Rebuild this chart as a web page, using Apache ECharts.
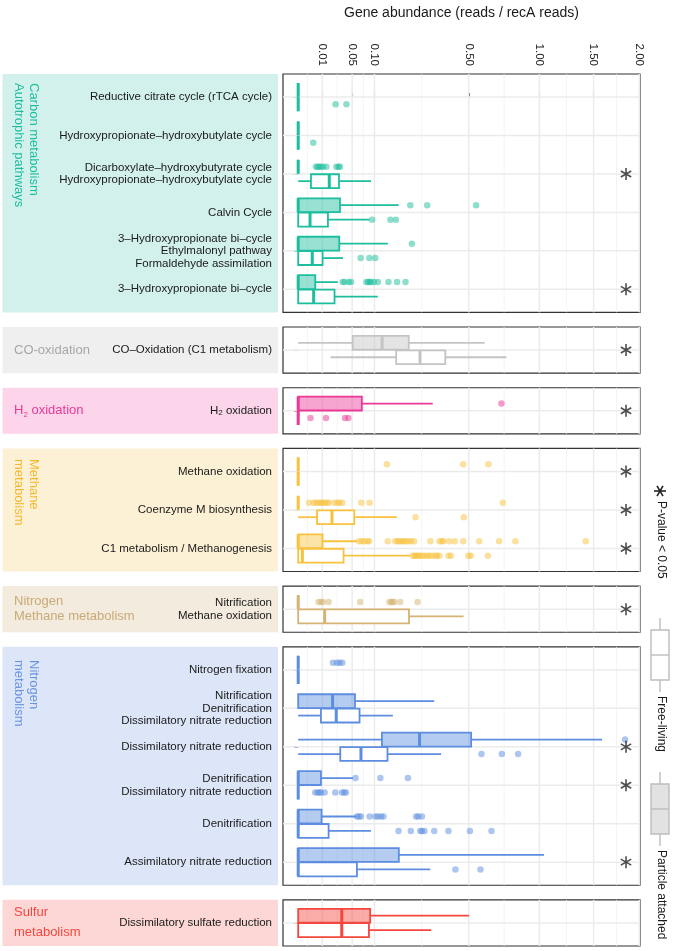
<!DOCTYPE html>
<html>
<head>
<meta charset="utf-8">
<script src="https://cdn.jsdelivr.net/npm/echarts@6/dist/echarts.min.js"></script>
<style>
  html, body { margin: 0; padding: 0; background: #fff; }
  #main { width: 675px; height: 951px; }
</style>
</head>
<body>
<div id="main"></div>
<script>
// x axis is square-root scaled; breaks shown on top
const tickValues = [0.01, 0.05, 0.1, 0.5, 1, 1.5, 2];
const tickLabels = ['0.01', '0.05', '0.10', '0.50', '1.00', '1.50', '2.00'];

// box stats are [min, q1, median, q3, max] in reads / recA reads
const carbonCats = [
  'Reductive citrate cycle (rTCA cycle)',
  'Hydroxypropionate–hydroxybutylate cycle',
  'Dicarboxylate–hydroxybutyrate cycle\nHydroxypropionate–hydroxybutylate cycle',
  'Calvin Cycle',
  '3–Hydroxypropionate bi–cycle\nEthylmalonyl pathway\nFormaldehyde assimilation',
  '3–Hydroxypropionate bi–cycle'
];
const carbonAttached = [[0, 0, 0, 0, 0], [0, 0, 0, 0, 0], [0, 0, 0, 0, 0], [0, 0, 0, 0.030, 0.173], [0, 0, 0, 0.029, 0.138], [0, 0, 0, 0.005, 0.027]];
const carbonFree = [[0, 0, 0, 0, 0], [0, 0, 0, 0, 0], [0, 0.0028, 0.0166, 0.0286, 0.091], [0, 0, 0.0024, 0.0152, 0.0875], [0, 0, 0.0034, 0.0102, 0.0344], [0, 0, 0.0041, 0.0227, 0.109]];
const carbonAttachedOut = [[], [], [0.0054, 0.0065, 0.0076, 0.0089, 0.0106, 0.0136, 0.025, 0.028, 0.030], [0.216, 0.286, 0.544], [0.222],
  [0.034, 0.037, 0.044, 0.048, 0.080, 0.084, 0.088, 0.091, 0.099, 0.109, 0.140, 0.168, 0.198]];
const carbonFreeOut = [[0.024, 0.040], [0.0039], [], [0.094, 0.146, 0.164], [0.067, 0.087, 0.102], []];
const carbonSig = [0, 0, 1, 0, 0, 1];

const coCats = ['CO–Oxidation (C1 metabolism)'];
const coAttached = [[0, 0.051, 0.121, 0.21, 0.597]];
const coFree = [[0.018, 0.165, 0.255, 0.372, 0.745]];
const coAttachedOut = [[]];
const coFreeOut = [[]];
const coSig = [1];

const h2Cats = ['H{sub|2} oxidation'];
const h2Attached = [[0, 0, 0, 0.0696, 0.311]];
const h2Free = [[0, 0, 0, 0, 0]];
const h2AttachedOut = [[0.71]];
const h2FreeOut = [[0.0026, 0.0133, 0.0376, 0.0432]];
const h2Sig = [1];

const methaneCats = ['Methane oxidation', 'Coenzyme M biosynthesis', 'C1 metabolism / Methanogenesis'];
const methaneAttached = [[0, 0, 0, 0, 0], [0, 0, 0, 0, 0], [0, 0, 0, 0.0102, 0.0593]];
const methaneFree = [[0, 0, 0, 0, 0], [0, 0.0061, 0.0196, 0.054, 0.1675], [0, 0, 0.0003, 0.0354, 0.216]];
const methaneAttachedOut = [
  [0.135, 0.468, 0.622],
  [0.002, 0.0041, 0.0054, 0.0071, 0.0084, 0.0102, 0.012, 0.0142, 0.0159, 0.0224, 0.0266, 0.0294, 0.0334, 0.0683, 0.0875, 0.72],
  [0.0634, 0.069, 0.075, 0.0827, 0.086, 0.138, 0.162, 0.170, 0.176, 0.185, 0.191, 0.198, 0.209, 0.218, 0.231, 0.300, 0.343, 0.355, 0.363, 0.392, 0.422, 0.468, 0.563, 0.694, 0.811, 1.421]
];
const methaneFreeOut = [
  [],
  [0.2365, 0.4717],
  [0.226, 0.2325, 0.239, 0.246, 0.253, 0.263, 0.273, 0.285, 0.294, 0.307, 0.323, 0.331, 0.343, 0.388, 0.401, 0.498, 0.512, 0.618]
];
const methaneSig = [1, 1, 1];

const nmCats = ['Nitrification\nMethane oxidation'];
const nmAttached = [[0, 0, 0, 0, 0]];
const nmFree = [[0, 0, 0.012, 0.211, 0.470]];
const nmAttachedOut = [[0.0071, 0.0089, 0.0106, 0.0159, 0.0662, 0.143, 0.149, 0.153, 0.159, 0.179, 0.245]];
const nmFreeOut = [[]];
const nmSig = [1];

const nitrogenCats = [
  'Nitrogen fixation',
  'Nitrification\nDenitrification\nDissimilatory nitrate reduction',
  'Dissimilatory nitrate reduction',
  'Denitrification\nDissimilatory nitrate reduction',
  'Denitrification',
  'Assimilatory nitrate reduction'
];
const nitrogenAttached = [[0, 0, 0, 0, 0], [0, 0, 0.0203, 0.0554, 0.318], [0, 0.1205, 0.253, 0.514, 1.587], [0, 0, 0, 0.0089, 0.0515], [0, 0, 0, 0.0094, 0.058], [0, 0, 0, 0.174, 1.039]];
const nitrogenFree = [[0, 0, 0, 0, 0], [0, 0.0089, 0.0249, 0.0647, 0.154], [0, 0.0304, 0.0677, 0.137, 0.351], [0, 0, 0, 0, 0], [0, 0, 0, 0.0159, 0.091], [0, 0, 0, 0.0593, 0.2995]];
const nitrogenAttachedOut = [
  [0.0208, 0.0258, 0.0294, 0.0334],
  [],
  [1.836],
  [0.0565, 0.116, 0.207],
  [0.0593, 0.0634, 0.0677, 0.0875, 0.102, 0.109, 0.118, 0.125, 0.239, 0.2475, 0.263],
  []
];
const nitrogenFreeOut = [
  [],
  [],
  [0.577, 0.713, 0.831],
  [0.005, 0.0065, 0.0079, 0.0089, 0.012, 0.0236, 0.0329, 0.0365, 0.0392],
  [0.173, 0.218, 0.256, 0.263, 0.274, 0.318, 0.388, 0.507, 0.642],
  [0.425, 0.571]
];
const nitrogenSig = [0, 0, 1, 1, 0, 1];

const sulfurCats = ['Dissimilatory sulfate reduction'];
const sulfurAttached = [[0, 0, 0.0326, 0.089, 0.502]];
const sulfurFree = [[0, 0, 0.0326, 0.086, 0.304]];
const sulfurAttachedOut = [[]];
const sulfurFreeOut = [[]];
const sulfurSig = [0];

// where the significance stars sit on the x axis
const starValue = 1.847;

var panels = [
  { cats: carbonCats, att: carbonAttached, free: carbonFree, attOut: carbonAttachedOut, freeOut: carbonFreeOut, sig: carbonSig,
    color: '#1DBE9E', fill: 'rgba(29,190,158,0.45)', bg: '#D3F1EC', label: 'Carbon metabolism\nAutotrophic pathways', vertical: true, labelY: 83 },
  { cats: coCats, att: coAttached, free: coFree, attOut: coAttachedOut, freeOut: coFreeOut, sig: coSig,
    color: '#C4C4C4', fill: 'rgba(196,196,196,0.45)', bg: '#EFEFEF', labelColor: '#A6A6A6', label: 'CO-oxidation' },
  { cats: h2Cats, att: h2Attached, free: h2Free, attOut: h2AttachedOut, freeOut: h2FreeOut, sig: h2Sig,
    color: '#EC3896', fill: 'rgba(236,56,150,0.45)', bg: '#FCD5EA', label: 'H{sub|2} oxidation' },
  { cats: methaneCats, att: methaneAttached, free: methaneFree, attOut: methaneAttachedOut, freeOut: methaneFreeOut, sig: methaneSig,
    color: '#F8C13E', fill: 'rgba(248,193,62,0.45)', bg: '#FDF1D5', labelColor: '#F4B830', label: 'Methane\nmetabolism', vertical: true, labelY: 459 },
  { cats: nmCats, att: nmAttached, free: nmFree, attOut: nmAttachedOut, freeOut: nmFreeOut, sig: nmSig,
    color: '#D6B374', fill: 'rgba(214,179,116,0.45)', bg: '#F3EBDD', labelColor: '#C9AA78', label: 'Nitrogen\nMethane metabolism', lineHeight: 15 },
  { cats: nitrogenCats, att: nitrogenAttached, free: nitrogenFree, attOut: nitrogenAttachedOut, freeOut: nitrogenFreeOut, sig: nitrogenSig,
    color: '#5C8DE0', fill: 'rgba(92,141,224,0.45)', bg: '#DCE6F8', labelColor: '#6A94DE', label: 'Nitrogen\nmetabolism', vertical: true, labelY: 660 },
  { cats: sulfurCats, att: sulfurAttached, free: sulfurFree, attOut: sulfurAttachedOut, freeOut: sulfurFreeOut, sig: sulfurSig,
    color: '#F4473D', fill: 'rgba(244,71,61,0.45)', bg: '#FDD7D5', label: 'Sulfur\nmetabolism', lineHeight: 20 }
];

var font = 'Liberation Sans, Arial, Helvetica, sans-serif';
var xMin = -0.063, xMax = 1.417;
var majorX = tickValues.map(Math.sqrt);
var minorX = [majorX[0] - (majorX[1] - majorX[0]) / 2];
for (var i = 0; i < majorX.length - 1; i++) minorX.push((majorX[i] + majorX[i + 1]) / 2);

var unit = 38.45, gap = 14.6, plotLeft = 283, plotRight = 640;
var panelTop = 74;
panels.forEach(function (p) {
  p.top = panelTop;
  p.height = (p.cats.length + 0.2) * unit;
  panelTop += p.height + gap;
});

var subRich = { sub: { fontSize: 8, verticalAlign: 'bottom', padding: [9, 0, 0, 0] } };

function gridRenderer(n) {
  return function (params, api) {
    var cs = params.coordSys;
    var children = [];
    minorX.forEach(function (v) {
      var x = api.coord([v, 0])[0];
      children.push({ type: 'line', shape: { x1: x, y1: cs.y, x2: x, y2: cs.y + cs.height }, style: { stroke: '#F1F1F1', lineWidth: 0.8 } });
    });
    majorX.forEach(function (v) {
      var x = api.coord([v, 0])[0];
      children.push({ type: 'line', shape: { x1: x, y1: cs.y, x2: x, y2: cs.y + cs.height }, style: { stroke: '#EBEBEB', lineWidth: 1.5 } });
    });
    for (var k = 0; k < n; k++) {
      var y = api.coord([0, k])[1];
      children.push({ type: 'line', shape: { x1: cs.x, y1: y, x2: cs.x + cs.width, y2: y }, style: { stroke: '#EBEBEB', lineWidth: 1.5 } });
    }
    return { type: 'group', children: children };
  };
}

function boxRenderer(color, fill) {
  return function (params, api) {
    var y = api.value(0);
    var h = api.size([0, 0.36])[1];
    var a = api.coord([api.value(1), y]);
    var b = api.coord([api.value(2), y]);
    var m = api.coord([api.value(3), y]);
    var c = api.coord([api.value(4), y]);
    var d = api.coord([api.value(5), y]);
    var cy = a[1];
    var ls = { stroke: color, lineWidth: 1.8 };
    return {
      type: 'group',
      children: [
        { type: 'line', shape: { x1: a[0], y1: cy, x2: b[0], y2: cy }, style: ls },
        { type: 'line', shape: { x1: c[0], y1: cy, x2: d[0], y2: cy }, style: ls },
        { type: 'rect', shape: { x: b[0], y: cy - h / 2, width: c[0] - b[0], height: h }, style: { fill: fill, stroke: color, lineWidth: 1.8 } },
        { type: 'line', shape: { x1: m[0], y1: cy - h / 2, x2: m[0], y2: cy + h / 2 }, style: { stroke: color, lineWidth: 3 } }
      ]
    };
  };
}

var starPath = 'path://M5,0L5,10M0.67,2.5L9.33,7.5M0.67,7.5L9.33,2.5';

var grids = [], xAxes = [], yAxes = [], series = [], graphics = [];

panels.forEach(function (p, k) {
  var n = p.cats.length;
  var idx = p.cats.map(function (c, i) { return i; });
  grids.push({ left: plotLeft, width: plotRight - plotLeft, top: p.top, height: p.height, show: true,
    borderColor: '#333', borderWidth: 1.2, backgroundColor: '#fff', outerBoundsMode: 'none' });

  if (k === 0) {
    xAxes.push({
      type: 'value', gridIndex: k, min: xMin, max: xMax, position: 'top',
      axisLine: { show: false }, splitLine: { show: false },
      axisTick: { show: true, length: 4, lineStyle: { color: '#333', width: 1.1 }, customValues: majorX },
      axisLabel: {
        show: true, rotate: -90, margin: 8, fontSize: 11.5, color: '#222', fontFamily: font, customValues: majorX,
        formatter: function (v) {
          var j = majorX.findIndex(function (t) { return Math.abs(t - v) < 1e-6; });
          return j >= 0 ? tickLabels[j] : '';
        }
      }
    });
  } else {
    xAxes.push({ type: 'value', gridIndex: k, min: xMin, max: xMax, show: false });
  }

  yAxes.push({
    type: 'value', gridIndex: k, min: -0.6, max: n - 0.4, inverse: true,
    axisLine: { show: false }, splitLine: { show: false },
    axisTick: { show: true, length: 4, lineStyle: { color: p.color, width: 1 }, customValues: idx },
    axisLabel: {
      show: true, margin: 11, fontSize: 11.5, lineHeight: 12.5, color: '#1a1a1a', fontFamily: font, customValues: idx,
      formatter: function (v) { return p.cats[Math.round(v)]; },
      rich: subRich
    }
  });

  series.push({
    type: 'custom', xAxisIndex: k, yAxisIndex: k, silent: true, z: 1,
    data: [[0, 0]], encode: { x: 0, y: 1 }, renderItem: gridRenderer(n)
  });
  series.push({
    type: 'custom', xAxisIndex: k, yAxisIndex: k, silent: true, z: 3,
    data: p.att.map(function (s, i) { return [i - 0.1875].concat(s.map(Math.sqrt)); }),
    encode: { x: [1, 2, 3, 4, 5], y: 0 }, renderItem: boxRenderer(p.color, p.fill)
  });
  series.push({
    type: 'custom', xAxisIndex: k, yAxisIndex: k, silent: true, z: 3,
    data: p.free.map(function (s, i) { return [i + 0.1875].concat(s.map(Math.sqrt)); }),
    encode: { x: [1, 2, 3, 4, 5], y: 0 }, renderItem: boxRenderer(p.color, '#fff')
  });

  var attPts = [], freePts = [], stars = [];
  p.attOut.forEach(function (arr, i) { arr.forEach(function (v) { attPts.push([Math.sqrt(v), i - 0.1875]); }); });
  p.freeOut.forEach(function (arr, i) { arr.forEach(function (v) { freePts.push([Math.sqrt(v), i + 0.1875]); }); });
  p.sig.forEach(function (s, i) { if (s) stars.push([Math.sqrt(starValue), i]); });

  [attPts, freePts].forEach(function (pts) {
    series.push({
      type: 'scatter', xAxisIndex: k, yAxisIndex: k, silent: true, z: 4,
      symbolSize: 6.5, itemStyle: { color: p.color, opacity: 0.5 }, data: pts
    });
  });
  series.push({
    type: 'scatter', xAxisIndex: k, yAxisIndex: k, silent: true, z: 5,
    symbol: starPath, symbolSize: 12, symbolKeepAspect: true,
    itemStyle: { color: 'none', borderColor: '#222', borderWidth: 1.6 }, data: stars
  });

  // strip background and group label
  graphics.push({ type: 'rect', shape: { x: 2.5, y: p.top, width: 275.5, height: p.height }, style: { fill: p.bg }, z: 0 });
  var lc = p.labelColor || p.color;
  if (p.vertical) {
    graphics.push({
      type: 'text', x: 26, y: p.labelY, rotation: -Math.PI / 2, z: 1,
      style: { text: p.label, fill: lc, font: '13px ' + font, align: 'left', verticalAlign: 'middle', lineHeight: 15 }
    });
  } else {
    graphics.push({
      type: 'text', x: 14, y: p.top + p.height / 2, z: 1,
      style: { text: p.label, fill: lc, font: '13px ' + font, align: 'left', verticalAlign: 'middle',
        lineHeight: p.lineHeight || 16, rich: subRich }
    });
  }
});

// title over the top axis
graphics.push({
  type: 'text', x: (plotLeft + plotRight) / 2, y: 13, z: 1,
  style: { text: 'Gene abundance (reads / recA reads)', fill: '#1a1a1a', font: '14px ' + font, align: 'center', verticalAlign: 'middle' }
});

// right-hand legend
var lx = 660;
function lgLine(x1, y1, x2, y2, color, w) {
  return { type: 'line', shape: { x1: x1, y1: y1, x2: x2, y2: y2 }, style: { stroke: color, lineWidth: w }, z: 1 };
}
graphics.push(lgLine(lx - 6, 491, lx + 6, 491, '#222', 1.6));
graphics.push(lgLine(lx - 3, 485.8, lx + 3, 496.2, '#222', 1.6));
graphics.push(lgLine(lx + 3, 485.8, lx - 3, 496.2, '#222', 1.6));
graphics.push({ type: 'text', x: lx + 1, y: 501, rotation: -Math.PI / 2, z: 1,
  style: { text: 'P-value < 0.05', fill: '#1a1a1a', font: '12px ' + font, align: 'left', verticalAlign: 'middle' } });

function legendBox(y0, fill, label) {
  graphics.push(lgLine(lx, y0, lx, y0 + 12, '#BDBDBD', 1.4));
  graphics.push({ type: 'rect', shape: { x: lx - 9, y: y0 + 12, width: 18, height: 50 }, style: { fill: fill, stroke: '#BDBDBD', lineWidth: 1.4 }, z: 1 });
  graphics.push(lgLine(lx - 9, y0 + 37, lx + 9, y0 + 37, '#BDBDBD', 1.4));
  graphics.push(lgLine(lx, y0 + 62, lx, y0 + 74, '#BDBDBD', 1.4));
  graphics.push({ type: 'text', x: lx + 1, y: y0 + 78, rotation: -Math.PI / 2, z: 1,
    style: { text: label, fill: '#1a1a1a', font: '12px ' + font, align: 'left', verticalAlign: 'middle' } });
}
legendBox(618, '#fff', 'Free-living');
legendBox(772, '#E2E2E2', 'Particle attached');

var chartDom = document.getElementById('main');
var myChart = echarts.init(chartDom, null, { renderer: 'canvas' });
var option = {
  animation: false,
  textStyle: { fontFamily: font },
  grid: grids,
  xAxis: xAxes,
  yAxis: yAxes,
  series: series,
  graphic: { elements: graphics }
};
option && myChart.setOption(option);
</script>
</body>
</html>
